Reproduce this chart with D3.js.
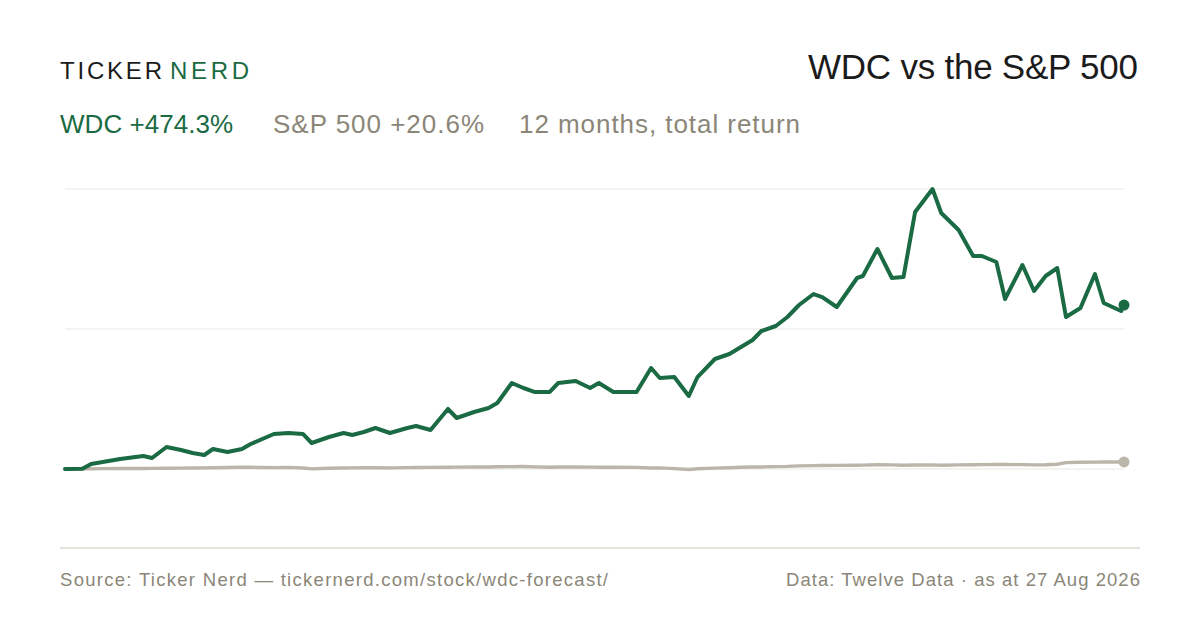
<!DOCTYPE html>
<html lang="en">
  <head>
    <meta charset="utf-8">
    <title>WDC vs the S&amp;P 500</title>
    <style>
      body {
        margin: 0;
        background: #fff;
      }
      #chart text {
        font-family: "Liberation Sans", Arial, sans-serif;
      }
    </style>
  </head>
  <body>
    <div id="chart"></div>

    <script src="https://cdn.jsdelivr.net/npm/d3@7/dist/d3.min.js"></script>
    <script>
      // data
      var startDate = "2025-08-27";
      var endDate = "2026-08-27";

      // days since startDate for each observation
      var dayOffsets = [0, 6, 9, 13, 19, 27, 30, 35, 40, 44,
        48, 51, 56, 61, 64, 68, 72, 77, 82, 85,
        91, 96, 99, 103, 107, 112, 118, 121, 126, 132,
        135, 141, 146, 149, 154, 158, 162, 167, 170, 176,
        181, 184, 189, 197, 202, 205, 210, 215, 218, 224,
        229, 233, 237, 240, 245, 249, 253, 258, 261, 266,
        273, 275, 280, 285, 289, 293, 299, 302, 308, 313,
        316, 321, 324, 330, 334, 338, 342, 345, 350, 355,
        358, 364, 365];

      // cumulative total return, %
      var wdcReturn = [0, 0.5, 14.5, 20.2, 28.9, 37.6, 31.8, 63.6, 55.0, 46.3,
        40.5, 57.9, 49.2, 57.9, 72.3, 86.8, 101.3, 104.1, 101.3, 75.2,
        92.6, 104.1, 98.4, 107.0, 118.6, 104.1, 118.6, 124.4, 112.8, 173.6,
        147.5, 164.9, 176.5, 190.9, 248.8, 234.3, 222.7, 222.7, 248.8, 254.6,
        234.3, 248.8, 222.7, 222.7, 292.2, 263.2, 266.1, 211.2, 266.1, 318.2,
        332.7, 352.9, 373.2, 399.2, 413.7, 439.7, 474.4, 506.2, 497.5, 468.6,
        552.5, 558.3, 636.4, 552.5, 555.4, 743.4, 810.0, 740.5, 691.4, 616.2,
        616.2, 598.8, 491.8, 590.1, 514.9, 558.3, 581.4, 439.7, 465.7, 564.1,
        480.2, 457.0, 474.3];

      var spxReturn = [0, 0.3, 0.6, 1.0, 1.3, 1.6, 1.8, 2.2, 2.6, 3.0,
        3.3, 3.6, 4.3, 5.5, 5.0, 4.3, 4.0, 4.8, 3.0, 0.5,
        2.0, 2.8, 3.2, 3.5, 3.8, 3.4, 4.0, 4.2, 4.6, 5.0,
        5.3, 5.6, 5.8, 6.3, 7.0, 7.2, 6.2, 5.2, 5.6, 5.8,
        5.4, 5.2, 5.0, 4.8, 2.8, 3.2, 1.0, -1.5, 0.8, 2.5,
        3.5, 5.0, 5.6, 6.0, 6.8, 7.5, 9.0, 9.8, 10.2, 10.4,
        11.0, 11.2, 12.2, 11.8, 11.0, 11.5, 12.0, 11.0, 11.8, 12.5,
        12.8, 13.0, 13.0, 12.6, 12.0, 12.4, 13.8, 18.5, 19.5, 20.0,
        20.3, 20.2, 20.6];

      var gridValues = [0, 405, 810];

      var wdcLabel = "WDC +474.3%";
      var spxLabel = "S&P 500 +20.6%";
      var periodLabel = "12 months, total return";

      var green = "#1a6a43";
      var sand = "#bcb5aa";
      var muted = "#8b8678";

      var W = 1200, H = 630;

      var parse = d3.utcParse("%Y-%m-%d");
      var t0 = parse(startDate);
      var dates = dayOffsets.map(function (d) { return d3.utcDay.offset(t0, d); });

      var x = d3.scaleUtc()
        .domain([t0, parse(endDate)])
        .range([65, 1124]);

      var y = d3.scaleLinear()
        .domain([0, 810])
        .range([469, 189]);

      var svg = d3.select("#chart").append("svg")
        .attr("width", W)
        .attr("height", H);

      // helper: text stretched to the width it has in the reference
      function label(px, py, size, fill, str, width, anchor) {
        var t = svg.append("text")
          .attr("x", px).attr("y", py)
          .attr("font-size", size)
          .attr("fill", fill)
          .attr("text-anchor", anchor || "start")
          .text(str);
        if (width) t.attr("textLength", width).attr("lengthAdjust", "spacing");
        return t;
      }

      // header
      label(60, 79, 24, "#1b1b1b", "TICKER", 102);
      label(170, 79, 24, green, "NERD", 79);

      label(1138, 79, 35, "#1b1b1b", "WDC vs the S&P 500", 330, "end");

      label(60, 133, 26, green, wdcLabel, 173);
      label(273, 133, 26, muted, spxLabel, 211);
      label(519, 133, 26, muted, periodLabel, 281);

      // grid
      svg.append("g")
        .selectAll("line")
        .data(gridValues)
        .join("line")
        .attr("x1", x.range()[0])
        .attr("x2", x.range()[1])
        .attr("y1", function (d) { return y(d); })
        .attr("y2", function (d) { return y(d); })
        .attr("stroke", "#ebe8e2")
        .attr("stroke-width", 1.2);

      svg.append("line")
        .attr("x1", 60).attr("x2", 1140)
        .attr("y1", 548).attr("y2", 548)
        .attr("stroke", "#dedad2")
        .attr("stroke-width", 1.5);

      // lines
      function series(values) {
        return values.map(function (v, i) { return { date: dates[i], value: v }; });
      }

      var line = d3.line()
        .x(function (d) { return x(d.date); })
        .y(function (d) { return y(d.value); });

      var spx = series(spxReturn);
      var wdc = series(wdcReturn);

      svg.append("path")
        .datum(spx)
        .attr("d", line)
        .attr("fill", "none")
        .attr("stroke", sand)
        .attr("stroke-width", 3.4)
        .attr("stroke-linejoin", "round")
        .attr("stroke-linecap", "round");

      svg.append("path")
        .datum(wdc)
        .attr("d", line)
        .attr("fill", "none")
        .attr("stroke", green)
        .attr("stroke-width", 4)
        .attr("stroke-linejoin", "round")
        .attr("stroke-linecap", "round");

      [[spx, sand], [wdc, green]].forEach(function (s) {
        var last = s[0][s[0].length - 1];
        svg.append("circle")
          .attr("cx", x(last.date))
          .attr("cy", y(last.value))
          .attr("r", 5.5)
          .attr("fill", s[1]);
      });

      // footer
      label(60, 586, 18.5, muted, "Source: Ticker Nerd \u2014 tickernerd.com/stock/wdc-forecast/", 548);
      label(1140, 586, 18.5, muted, "Data: Twelve Data \u00b7 as at 27 Aug 2026", 354, "end");
    </script>
  </body>
</html>
